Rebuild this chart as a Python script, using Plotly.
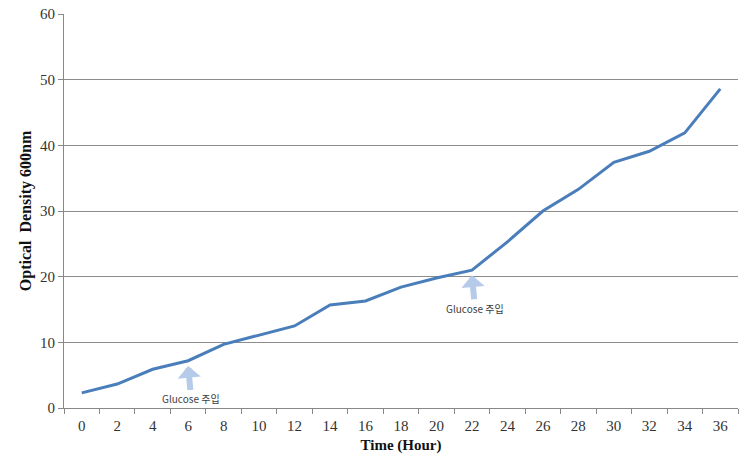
import plotly.graph_objects as go

hours = ['0', '2', '4', '6', '8', '10', '12', '14', '16', '18', '20', '22', '24', '26', '28', '30', '32', '34', '36']
od600 = [2.3, 3.65, 5.9, 7.2, 9.7, 11.1, 12.5, 15.7, 16.3, 18.4, 19.8, 21.0, 25.3, 30.0, 33.3, 37.4, 39.1, 41.9, 48.6]
glucose_hours = ['6', '22']
glucose_label = 'Glucose 주입'

fig = go.Figure()
fig.add_trace(go.Scatter(x=list(range(len(hours))), y=od600, mode='lines',
                         line=dict(color='#4a7ebb', width=3), showlegend=False))

for h in glucose_hours:
    i = hours.index(h)
    fig.add_annotation(x=i, y=od600[i] - 0.8, xref='x', yref='y',
                       text=glucose_label, showarrow=True, arrowhead=1,
                       arrowsize=0.65, arrowwidth=6, arrowcolor='#b6cbea',
                       ax=3, ay=33, standoff=0,
                       font=dict(family='Noto Sans CJK KR', size=10, color='#404040'))

fig.update_layout(
    width=753, height=472,
    margin=dict(l=64, r=15, t=14, b=64),
    plot_bgcolor='white', paper_bgcolor='white',
    font=dict(family='Liberation Serif', size=15, color='#333333'),
    xaxis=dict(range=[-0.5, 18.5], tickmode='array',
               tickvals=list(range(len(hours))), ticktext=hours,
               ticks='', showline=True, linecolor='#888888', linewidth=1,
               showgrid=False, zeroline=False, automargin=False,
               ticklabelstandoff=4,
               minor=dict(tickmode='array', tickvals=[k - 0.5 for k in range(len(hours) + 1)],
                          ticks='outside', ticklen=5, tickcolor='#888888', showgrid=False),
               title=dict(text='<b>Time (Hour)</b>', standoff=6,
                          font=dict(family='Liberation Serif', size=15, color='#111111'))),
    yaxis=dict(range=[0, 60], dtick=10, ticks='outside', ticklen=5,
               tickcolor='#888888', showline=True, linecolor='#888888', linewidth=1,
               showgrid=True, gridcolor='#8c8c8c', gridwidth=1, zeroline=False,
               automargin=False,
               title=dict(text='<b>Optical  Density 600nm</b>', standoff=4,
                          font=dict(family='Liberation Serif', size=16, color='#111111'))),
)

fig.write_html('out.html')
